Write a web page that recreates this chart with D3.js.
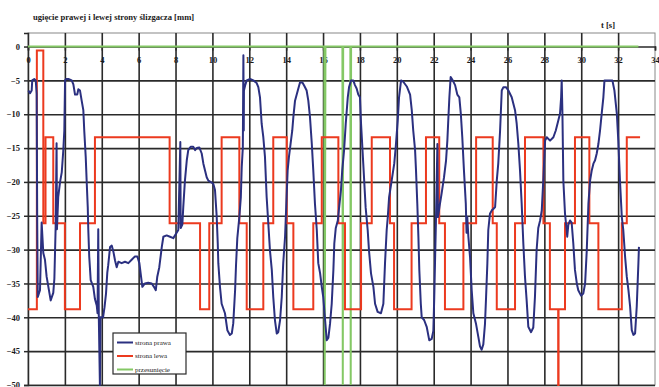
<!DOCTYPE html>
<html>
<head>
<meta charset="utf-8">
<script src="https://cdn.jsdelivr.net/npm/d3@7"></script>
<style>
  body { margin: 0; background: #fff; }
  svg text { font-family: "Liberation Serif", "DejaVu Serif", serif; fill: #1a1a1a; }
  .grid line { stroke: #2a2a2a; stroke-width: 1.6; }
  .grid .domain { display: none; }
  .chart-title { font-size: 8.6px; font-weight: bold; }
  .legend-label { font-size: 7px; }
</style>
</head>
<body>
<div id="chart_container"></div>
<script>
const chartTitle = "ugięcie prawej i lewej strony ślizgacza [mm]";
const xLabel = "t [s]";
const seriesNames = ["strona prawa", "strona lewa", "przesunięcie"];
const seriesColors = ["#2b3080", "#ec3a1f", "#84c865"];
const xTicks = [0, 2, 4, 6, 8, 10, 12, 14, 16, 18, 20, 22, 24, 26, 28, 30, 32, 34];
const yTicks = [0, -5, -10, -15, -20, -25, -30, -35, -40, -45, -50];

// strona prawa: [t, mm]
const stronaPrawa = [[0.02,-6.5],[0.11,-6.9],[0.2,-6.5],[0.23,-5],[0.34,-4.8],[0.42,-5],[0.47,-7],[0.5,-26],[0.53,-37],[0.6,-36.4],[0.65,-36],[0.74,-26],[0.83,-30.5],[0.92,-31.5],[1.01,-34],[1.16,-36.4],[1.23,-37.5],[1.37,-36.4],[1.43,-34.3],[1.5,-26.6],[1.55,-14.3],[1.57,-27],[1.64,-22.2],[1.74,-20],[1.83,-18.6],[1.91,-15.5],[1.97,-12.4],[2.01,-5],[2.06,-4.8],[2.19,-4.8],[2.37,-5],[2.46,-5.6],[2.55,-7.1],[2.67,-7.1],[2.73,-6.3],[2.82,-6.5],[2.91,-8],[3.0,-9.4],[3.05,-12.4],[3.13,-16.3],[3.18,-19.8],[3.24,-23.7],[3.27,-27.1],[3.32,-31],[3.4,-34.5],[3.54,-35.5],[3.63,-37.3],[3.73,-38.3],[3.77,-39.4],[3.81,-27],[3.84,-40],[3.9,-50],[3.93,-40],[4.07,-40],[4.15,-38.5],[4.23,-36.5],[4.3,-33.4],[4.35,-32.3],[4.45,-29.6],[4.54,-29.4],[4.63,-30.3],[4.72,-31.6],[4.81,-32.6],[4.9,-31.8],[5.08,-32],[5.26,-31.8],[5.44,-32],[5.62,-31.5],[5.8,-31],[5.93,-31],[6.04,-32],[6.13,-34],[6.2,-35.5],[6.34,-35],[6.52,-34.9],[6.71,-35],[6.83,-35.5],[6.93,-36],[7.01,-34],[7.12,-32.6],[7.25,-29.7],[7.34,-28.1],[7.52,-27.9],[7.7,-28.1],[7.88,-28.3],[8.06,-27.5],[8.15,-27.1],[8.26,-14.1],[8.28,-26.8],[8.37,-26.3],[8.42,-23.7],[8.51,-19.8],[8.61,-16.8],[8.69,-15.3],[8.82,-14.8],[8.96,-14.8],[9.06,-15.3],[9.15,-15],[9.29,-14.9],[9.42,-15.8],[9.51,-17.3],[9.69,-19.3],[9.78,-19.8],[9.96,-20.1],[10.05,-20.3],[10.14,-21.2],[10.23,-25],[10.29,-29.1],[10.32,-32],[10.41,-35.5],[10.5,-38],[10.68,-39.4],[10.81,-41.9],[10.95,-42.6],[11.05,-42.4],[11.13,-40.9],[11.23,-36],[11.28,-32.3],[11.35,-28.3],[11.46,-25.2],[11.54,-22.3],[11.59,-17.8],[11.65,-14.9],[11.68,-1.3],[11.7,-12.4],[11.71,-6.5],[11.77,-5.8],[11.86,-5],[12.04,-4.8],[12.22,-5],[12.4,-5.4],[12.49,-6],[12.58,-7.5],[12.67,-11.4],[12.76,-13.4],[12.85,-16.3],[12.94,-22.2],[13.03,-26.1],[13.12,-30.1],[13.22,-33],[13.3,-37],[13.39,-40.4],[13.49,-42.4],[13.57,-42.2],[13.67,-40.4],[13.76,-37],[13.84,-32],[13.94,-28.1],[14.03,-21.7],[14.08,-18.3],[14.15,-16.3],[14.26,-13.9],[14.33,-12.4],[14.39,-10.4],[14.48,-8],[14.63,-6.5],[14.75,-5.3],[14.88,-5.3],[14.98,-5.8],[15.11,-6.5],[15.2,-8],[15.29,-10.4],[15.39,-14.4],[15.47,-18.3],[15.56,-23.2],[15.66,-27.1],[15.74,-32],[15.84,-33.5],[15.93,-35.5],[16.01,-37],[16.11,-40.4],[16.2,-43.4],[16.29,-43],[16.38,-40.9],[16.47,-38],[16.56,-33],[16.61,-29.1],[16.69,-26.8],[16.8,-25.7],[16.87,-23.8],[16.97,-21.2],[17.04,-18.3],[17.14,-15.3],[17.23,-11.4],[17.34,-7.5],[17.41,-6],[17.52,-5],[17.64,-5],[17.73,-5.7],[17.82,-6.2],[17.91,-7.1],[18.0,-7.5],[18.06,-11.4],[18.18,-17.3],[18.31,-23.8],[18.42,-27.1],[18.49,-30.1],[18.6,-33.5],[18.73,-35.5],[18.82,-38],[18.96,-39.2],[19.14,-39.4],[19.27,-38],[19.36,-32],[19.45,-27.1],[19.51,-25.2],[19.58,-22.3],[19.72,-19.8],[19.86,-17.3],[19.94,-14.9],[20.05,-10.9],[20.12,-7.5],[20.23,-5],[20.35,-5.2],[20.54,-5.9],[20.72,-7.1],[20.81,-9.4],[20.89,-12.4],[20.99,-15.3],[21.04,-18.3],[21.11,-23.2],[21.17,-28.1],[21.22,-33],[21.3,-38],[21.35,-40],[21.48,-40.4],[21.62,-41.4],[21.76,-43.4],[21.89,-43.2],[21.98,-42],[22.03,-37],[22.07,-32],[22.12,-26],[22.2,-14.4],[22.23,-25.2],[22.34,-23.2],[22.43,-21.7],[22.56,-19.3],[22.67,-16.8],[22.74,-13.9],[22.79,-10.9],[22.85,-7.5],[22.92,-4.5],[23.03,-5],[23.16,-5.7],[23.28,-7.1],[23.39,-7.5],[23.47,-9.9],[23.55,-13.4],[23.64,-18.3],[23.74,-23.2],[23.78,-27.5],[23.82,-25.2],[23.88,-28.1],[23.97,-31.1],[24.06,-36],[24.15,-39.4],[24.29,-40.9],[24.42,-42.9],[24.51,-44.3],[24.6,-44.8],[24.69,-44],[24.78,-41],[24.84,-37],[24.91,-32],[24.96,-27.1],[25.05,-24.7],[25.15,-24.2],[25.23,-24],[25.33,-23.7],[25.42,-19.8],[25.5,-17.3],[25.6,-12.4],[25.69,-6.5],[25.78,-6],[25.92,-6],[26.05,-6.5],[26.23,-7.5],[26.41,-9.4],[26.5,-11.4],[26.59,-14.4],[26.68,-18.3],[26.77,-23.2],[26.86,-29.1],[26.95,-34],[27.04,-37.5],[27.13,-41.4],[27.28,-42.2],[27.4,-41.5],[27.49,-37],[27.58,-30.1],[27.67,-26.8],[27.77,-25.7],[27.86,-24.2],[27.95,-19.3],[28.04,-13.9],[28.13,-13.4],[28.31,-13.9],[28.49,-13.4],[28.62,-12.4],[28.76,-10.9],[28.85,-9.9],[28.91,-7.5],[28.94,-5],[28.98,-9.9],[29.03,-19.8],[29.12,-24.7],[29.21,-27.1],[29.24,-28.1],[29.3,-26.3],[29.39,-25.7],[29.48,-26],[29.57,-29.1],[29.66,-33],[29.76,-35],[29.84,-36],[29.99,-36.8],[30.11,-36.5],[30.21,-35],[30.3,-30.1],[30.39,-23.2],[30.48,-19.8],[30.57,-18.3],[30.66,-17.3],[30.75,-16.8],[30.84,-15.8],[30.93,-14.4],[31.02,-12.4],[31.11,-9.9],[31.2,-7.5],[31.26,-5],[31.69,-5],[31.8,-6.5],[31.93,-9.9],[32.01,-13.9],[32.1,-19.8],[32.2,-25.2],[32.28,-27.1],[32.38,-31.1],[32.47,-34],[32.56,-36],[32.65,-38.4],[32.74,-41.9],[32.83,-42.6],[32.92,-42.4],[33.01,-38.4],[33.1,-32],[33.13,-29.6]];

// strona lewa: step changes [t, mm]
const stronaLewa = [[0,-38.8],[0.48,-0.6],[0.83,-26.1],[0.95,-13.4],[1.37,-26.1],[2.0,-38.8],[2.82,-26.1],[3.63,-13.4],[7.68,-26.1],[9.33,-38.8],[9.83,-26.1],[10.5,-13.4],[11.46,-26.1],[11.86,-38.8],[12.76,-26.1],[13.3,-13.4],[14.03,-26.1],[14.39,-38.8],[15.47,-26.1],[15.93,-13.4],[16.83,-26.1],[17.19,-38.8],[18.06,-26.1],[18.64,-13.4],[19.63,-26.1],[19.85,-38.8],[20.8,-26.1],[21.58,-13.4],[22.3,-26.1],[22.61,-38.8],[23.61,-26.1],[24.3,-13.4],[25.2,-26.1],[25.42,-38.8],[26.41,-26.1],[26.95,-13.4],[27.95,-26.1],[28.3,-38.8],[28.75,-50],[28.77,-38.8],[29.12,-26.1],[29.66,-13.4],[30.44,-26.1],[30.93,-38.8],[32.2,-26.1],[32.47,-13.4],[33.19,-13.4]];

// third series: [t, mm]
const trzeciaSeria = [[0,0],[16.07,0],[16.09,-50],[16.13,0],[17.05,0],[17.07,-50],[17.09,0],[17.48,0],[17.5,-50],[17.52,0],[33.1,0]];

class DeflectionChart {
  constructor() {
    this.margin = { top: 33, right: 4, bottom: 2, left: 28 };
    this.width = 659 - this.margin.left - this.margin.right;
    this.height = 387 - this.margin.top - this.margin.bottom;
    this.createChart();
  }

  createChart() {
    const root = d3.select("#chart_container")
      .append("svg")
      .attr("width", 659)
      .attr("height", 387);

    root.append("text")
      .attr("class", "chart-title")
      .attr("x", 33)
      .attr("y", 20)
      .text(chartTitle);

    root.append("text")
      .attr("class", "chart-title")
      .attr("x", 601)
      .attr("y", 28)
      .text(xLabel);

    const svg = root.append("g")
      .attr("transform", `translate(${this.margin.left}, ${this.margin.top})`);

    const xScale = d3.scaleLinear().domain([0, 34]).range([0, this.width]);
    const yScale = d3.scaleLinear().domain([-50, 2]).range([this.height, 0]);

    // frame
    svg.append("rect")
      .attr("width", this.width)
      .attr("height", this.height)
      .attr("fill", "#fff")
      .attr("stroke", "#888")
      .attr("stroke-width", 1);

    svg.append("g")
      .attr("class", "grid")
      .attr("transform", `translate(0, ${this.height})`)
      .call(d3.axisBottom(xScale).tickValues(xTicks.slice(1, -1)).tickSize(-this.height).tickFormat(""));

    svg.append("g")
      .attr("class", "grid")
      .call(d3.axisLeft(yScale).tickValues(yTicks.slice(1)).tickSize(-this.width).tickFormat(""));

    // axes
    const yAxis = svg.append("g")
      .call(d3.axisLeft(yScale).tickValues(yTicks).tickSize(4).tickPadding(4));
    yAxis.selectAll("text").style("font-size", "8.5px").style("font-weight", "bold");
    yAxis.selectAll("line, path").attr("stroke", "#2a2a2a").attr("stroke-width", 1.5);

    const xAxis = svg.append("g")
      .attr("transform", `translate(0, ${yScale(0)})`)
      .call(d3.axisBottom(xScale).tickValues(xTicks).tickSize(4).tickPadding(6));
    xAxis.selectAll("text").style("font-size", "8.5px").style("font-weight", "bold");
    xAxis.selectAll("line, path").attr("stroke", "#2a2a2a").attr("stroke-width", 1.5);

    const line = d3.line()
      .x(d => xScale(d[0]))
      .y(d => yScale(d[1]));

    svg.append("path")
      .datum(trzeciaSeria)
      .attr("fill", "none")
      .attr("stroke", seriesColors[2])
      .attr("stroke-width", 2)
      .attr("d", line);

    svg.append("path")
      .datum(stronaLewa)
      .attr("fill", "none")
      .attr("stroke", seriesColors[1])
      .attr("stroke-width", 2)
      .attr("d", line.curve(d3.curveStepAfter));

    svg.append("path")
      .datum(stronaPrawa)
      .attr("fill", "none")
      .attr("stroke", seriesColors[0])
      .attr("stroke-width", 2)
      .attr("stroke-linejoin", "round")
      .attr("d", line.curve(d3.curveLinear));

    // legend
    const legend = root.append("g")
      .attr("transform", "translate(113, 333)");

    legend.append("rect")
      .attr("width", 73)
      .attr("height", 41)
      .attr("fill", "#fff")
      .attr("stroke", "#2a2a2a")
      .attr("stroke-width", 1.2);

    const items = legend.selectAll("g.item")
      .data(seriesNames)
      .join("g")
      .attr("class", "item")
      .attr("transform", (d, i) => `translate(0, ${9.5 + i * 13.5})`);

    items.append("line")
      .attr("x1", 4)
      .attr("x2", 20)
      .attr("stroke", (d, i) => seriesColors[i])
      .attr("stroke-width", 2);

    items.append("text")
      .attr("class", "legend-label")
      .attr("x", 22)
      .attr("dy", "0.35em")
      .text(d => d);
  }
}

new DeflectionChart();
</script>
</body>
</html>
